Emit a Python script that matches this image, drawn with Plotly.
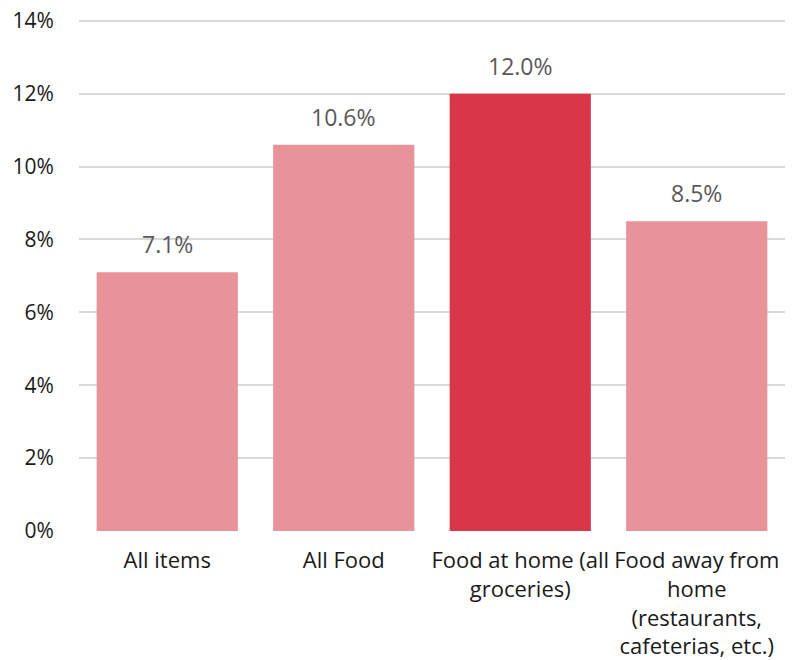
import plotly.graph_objects as go

categories = ["All items", "All Food", "Food at home (all<br>groceries)",
              "Food away from<br>home<br>(restaurants,<br>cafeterias, etc.)"]
values = [7.1, 10.6, 12.0, 8.5]
labels = ["7.1%", "10.6%", "12.0%", "8.5%"]
colors = ["#E8939A", "#E8939A", "#D9364A", "#E8939A"]
tick_vals = [0, 2, 4, 6, 8, 10, 12, 14]
tick_text = ["0%", "2%", "4%", "6%", "8%", "10%", "12%", "14%"]

font_family = "Open Sans, Lato, sans-serif"

fig = go.Figure(go.Bar(x=categories, y=values, marker_color=colors,
                       marker_line_width=0, width=0.8))

for c, v, t in zip(categories, values, labels):
    fig.add_annotation(x=c, y=v, text=t, showarrow=False, yanchor="bottom",
                       yshift=10, font=dict(family=font_family, size=23, color="#595959"))

fig.update_layout(
    width=793, height=660,
    margin=dict(l=79, r=8, t=19, b=129),
    plot_bgcolor="white", paper_bgcolor="white",
    showlegend=False,
    font=dict(family=font_family, size=21, color="#1a1a1a"),
    xaxis=dict(showgrid=False, showline=False, ticks="outside", ticklen=10,
               tickcolor="rgba(0,0,0,0)", tickfont=dict(size=22), automargin=False),
    yaxis=dict(range=[0, 14.05], tickvals=tick_vals, ticktext=tick_text,
               showgrid=True, gridcolor="#D9D9D9", gridwidth=2,
               zeroline=False, showline=False, ticks="outside", ticklen=20,
               tickcolor="rgba(0,0,0,0)", tickfont=dict(size=21), automargin=False),
)

fig.write_html("out.html", config={"displayModeBar": False},
               post_script="document.body.style.margin='0px';document.body.style.overflow='hidden';")
